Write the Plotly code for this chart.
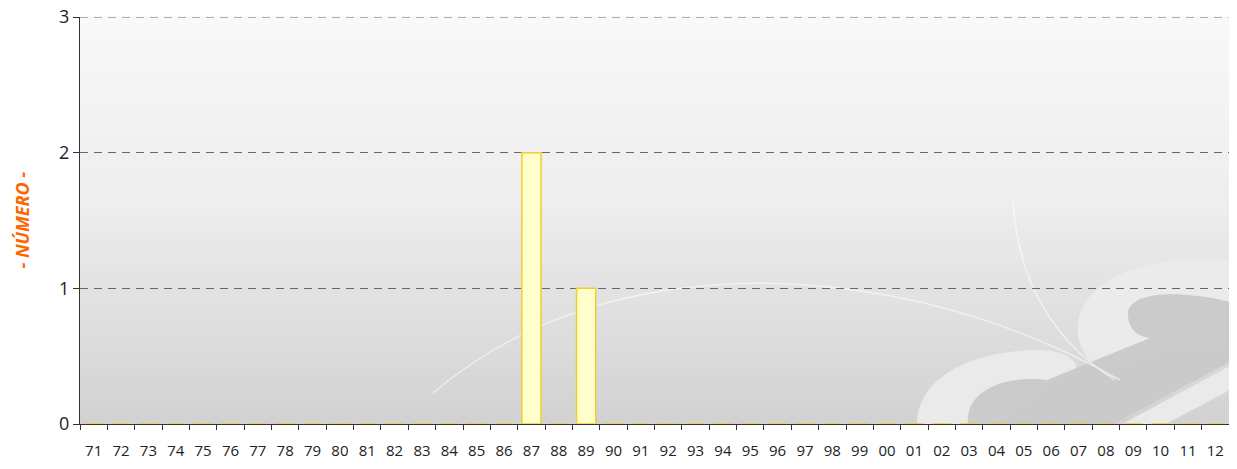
import plotly.graph_objects as go

years = [str(y) for y in range(71, 100)] + [f"{y:02d}" for y in range(0, 13)]
counts = {"87": 2, "89": 1}
values = [counts.get(y, 0) for y in years]

y_ticks = [0, 1, 2, 3]

# page has an 8px body margin, so size the figure to fit inside it
OX, OY = 8, 8
W, H = 1221, 453
L, R, T, B = 72, 0, 9, 37
PW, PH = W - L - R, H - T - B


def px(x, y):
    # screen pixel position -> paper coords
    return f"{(x - OX - L) / PW:.4f},{(H - B - (y - OY)) / PH:.4f}"


def path(cmds):
    return " ".join(c if isinstance(c, str) else px(*c) for c in cmds)


def gradient_shapes(n=60):
    shapes = []
    top = (249, 249, 249)
    mid = (238, 238, 238)
    bottom = (210, 210, 210)
    for i in range(n):
        t = i / n
        if t < 0.45:
            s = t / 0.45
            c = [int(top[k] + (mid[k] - top[k]) * s) for k in range(3)]
        else:
            s = (t - 0.45) / 0.55
            c = [int(mid[k] + (bottom[k] - mid[k]) * s) for k in range(3)]
        shapes.append(dict(
            type="rect", xref="paper", yref="paper",
            x0=0, x1=1, y0=1 - (i + 1) / n, y1=1 - i / n + 0.002,
            fillcolor=f"rgb({c[0]},{c[1]},{c[2]})", line_width=0, layer="below",
        ))
    return shapes


def logo_shapes():
    light = "rgba(235,235,235,0.95)"
    dark = "rgba(201,201,201,0.95)"

    def fill(p, color):
        return dict(type="path", path=p, xref="paper", yref="paper",
                    fillcolor=color, line_width=0, layer="below")

    upper = path(["M", (1078, 335), "C", (1072, 280), (1150, 252), (1230, 260),
                  "L", (1230, 330), "L", (1100, 372),
                  "C", (1088, 360), (1079, 348), (1078, 335), "Z"])
    lower = path(["M", (917, 424), "C", (918, 375), (975, 350), (1040, 350),
                  "C", (1065, 351), (1080, 360), (1075, 372),
                  "L", (1047, 384), "L", (1000, 424), "Z"])
    dark_band = path(["M", (1128, 314), "C", (1128, 294), (1170, 288), (1230, 302),
                      "L", (1230, 362), "L", (1113, 424), "L", (968, 424),
                      "C", (965, 388), (1010, 375), (1047, 380),
                      "L", (1150, 338),
                      "C", (1134, 336), (1128, 326), (1128, 314), "Z"])
    band = path(["M", (1122, 424), "L", (1230, 366), "L", (1230, 390), "L", (1166, 424), "Z"])
    shapes = [fill(upper, light), fill(lower, light), fill(dark_band, dark), fill(band, light)]

    arc1 = path(["M", (433, 393), "Q", (560, 285), (760, 283), "Q", (950, 285), (1120, 380)])
    arc2 = path(["M", (1013, 200), "Q", (1020, 320), (1115, 380)])
    for p in (arc1, arc2):
        shapes.append(dict(type="path", path=p, xref="paper", yref="paper",
                           line=dict(color="rgba(255,255,255,0.55)", width=1.5), layer="below"))
    return shapes


fig = go.Figure()
fig.add_trace(go.Bar(
    x=years,
    y=values,
    width=0.7,
    marker=dict(color="#FFFFCC", line=dict(color="#F3CC2E", width=1.5)),
    showlegend=False,
))

top_grid = dict(type="line", xref="paper", yref="y", x0=0, x1=1, y0=3, y1=3,
                line=dict(color="#666666", width=1.2, dash="8px,6px"), layer="below")

fig.update_layout(
    width=W,
    height=H,
    margin=dict(l=L, r=R, t=T, b=B),
    paper_bgcolor="white",
    plot_bgcolor="rgba(0,0,0,0)",
    font=dict(family="Open Sans, Liberation Sans, sans-serif", size=14, color="#222222"),
    shapes=gradient_shapes() + logo_shapes() + [top_grid],
    annotations=[dict(
        text="<b><i>- NÚMERO -</i></b>",
        xref="paper", yref="paper", x=(13 - L) / PW, y=0.5,
        xanchor="center", yanchor="middle", textangle=-90, showarrow=False,
        font=dict(color="#FF6600", size=18),
    )],
)
fig.update_xaxes(
    type="category",
    automargin=False,
    tickson="boundaries",
    ticks="outside",
    ticklen=5,
    tickcolor="#333333",
    showline=True,
    linecolor="#333333",
    linewidth=1,
    showgrid=False,
    tickfont=dict(size=15),
    tickangle=0,
    ticklabelstandoff=13,
)
fig.update_yaxes(
    automargin=False,
    range=[0, 3],
    tickvals=y_ticks,
    ticks="outside",
    ticklen=6,
    tickcolor="#333333",
    showline=True,
    linecolor="#333333",
    linewidth=1,
    showgrid=True,
    gridcolor="#666666",
    griddash="8px,6px",
    gridwidth=1.2,
    zeroline=False,
    tickfont=dict(size=18),
    ticklabelstandoff=0,
    ticklabeloverflow="allow",
)

fig.write_html("out.html")
